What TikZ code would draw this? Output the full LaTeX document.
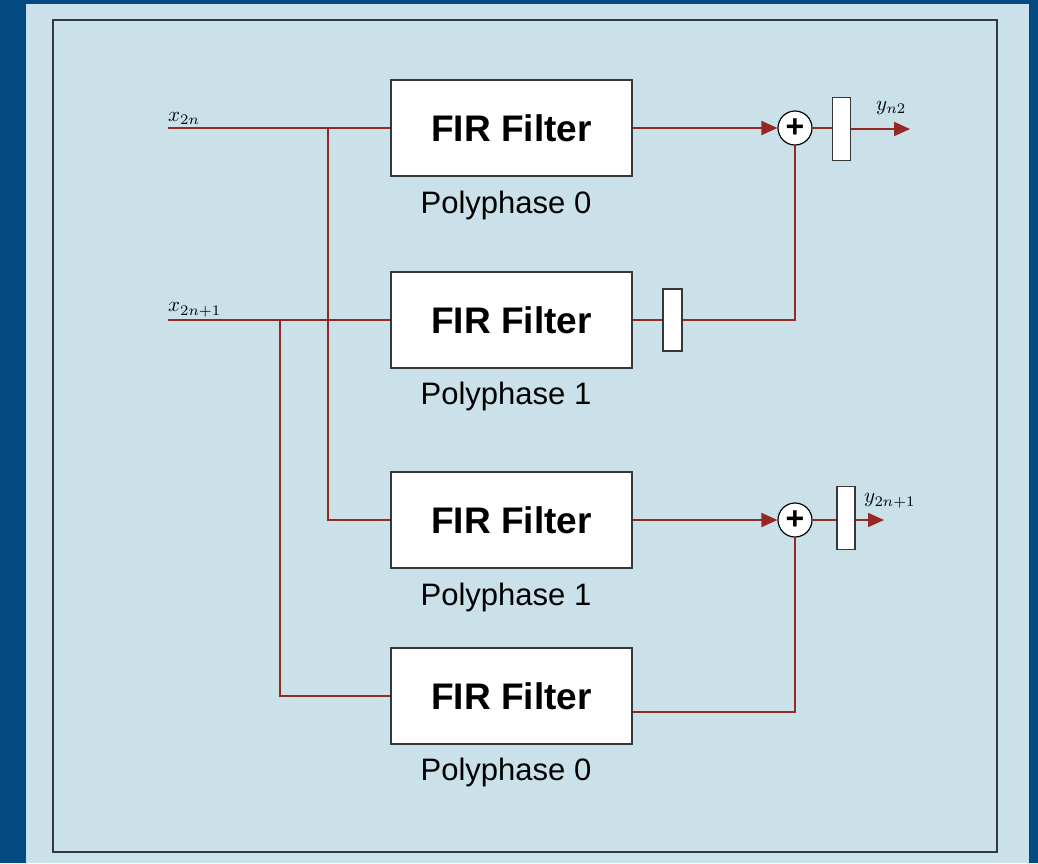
\documentclass[tikz,border=0pt]{standalone}
\usepackage{fontspec}
\usepackage{graphicx}
\setmainfont{Liberation Sans}
\usetikzlibrary{arrows.meta,calc}
\definecolor{darkbg}{RGB}{4,74,130}
\definecolor{lightbg}{RGB}{202,225,234}
\definecolor{sigred}{RGB}{150,40,40}
\definecolor{boxgray}{RGB}{55,55,55}
\tikzset{
  fir/.style={draw=boxgray,line width=1.3pt,fill=white,minimum width=241pt,minimum height=96pt,inner sep=0pt,font=\fontsize{37}{40}\selectfont\bfseries},
  polylabel/.style={inner sep=0pt,font=\fontsize{31}{34}\selectfont},
  adder/.style={draw=black,line width=1.2pt,fill=white,circle,minimum size=34pt,inner sep=0pt,font=\fontsize{32}{34}\selectfont\bfseries},
  delaybox/.style={draw=boxgray,line width=1.3pt,fill=white,inner sep=0pt,minimum width=18pt,minimum height=63pt},
  sig/.style={draw=sigred,line width=2pt},
  sigarrow/.style={sig,-{Triangle[length=16pt,width=14pt]}},
  mathlabel/.style={inner sep=0pt,anchor=south west},
}
\newcommand{\biglabel}[1]{\scalebox{2.1}{$#1$}}
\begin{document}
\begin{tikzpicture}[x=1pt,y=-1pt]
\useasboundingbox (0,0) rectangle (1038,863);
\fill[darkbg] (0,0) rectangle (1038,863);
\fill[lightbg] (26,4) rectangle (1029,863);
\draw[boxgray,line width=1.5pt] (53,20) rectangle (997,852);

% filters
\node[fir] (f1) at (511.5,128) {FIR Filter};
\node[fir] (f2) at (511.5,320) {FIR Filter};
\node[fir] (f3) at (511.5,520) {FIR Filter};
\node[fir] (f4) at (511.5,696) {FIR Filter};
\node[polylabel] (p1) at (506,205) {Polyphase 0};
\node[polylabel] (p2) at (506,396) {Polyphase 1};
\node[polylabel] (p3) at (506,597) {Polyphase 1};
\node[polylabel] (p4) at (506,772) {Polyphase 0};

% adders and delays
\node[adder] (a1) at (795,128) {+};
\node[adder] (a2) at (795,520) {+};
\node[delaybox] (d1) at (841.5,129) {};
\node[delaybox,minimum width=19pt,minimum height=62pt] (d2) at (672.5,320) {};
\node[delaybox] (d3) at (846,518) {};

% inputs / outputs
\coordinate (x0) at (168,128);
\coordinate (x1) at (168,320);
\coordinate (j0) at (328,128);
\coordinate (j1) at (280,320);
\coordinate (y0) at (910,129);
\coordinate (y1) at (884,520);
\node[mathlabel] (lx0) at (168,125) {\biglabel{x_{2n}}};
\node[mathlabel] (lx1) at (168,317) {\biglabel{x_{2n+1}}};
\node[mathlabel] (ly0) at (876,115) {\biglabel{y_{n2}}};
\node[mathlabel] (ly1) at (864,508) {\biglabel{y_{2n+1}}};

% connectors
\draw[sig] (x0) -- (f1.west);
\draw[sig] (x1) -- (f2.west);
\draw[sig] (j0) |- (f3.west);
\draw[sig] (j1) |- (f4.west);
\draw[sigarrow] (f1.east) -- (a1.west);
\draw[sig] (a1.east) -- (d1.west |- a1.east);
\draw[sigarrow] (d1.east) -- (y0);
\draw[sig] (f2.east) -- (d2.west);
\draw[sig] (d2.east) -| (a1.south);
\draw[sigarrow] (f3.east) -- (a2.west);
\draw[sig] (a2.east) -- (d3.west |- a2.east);
\draw[sigarrow] (d3.east |- y1) -- (y1);
\draw[sig] ([yshift=-16pt]f4.east) -| (a2.south);
\end{tikzpicture}
\end{document}
